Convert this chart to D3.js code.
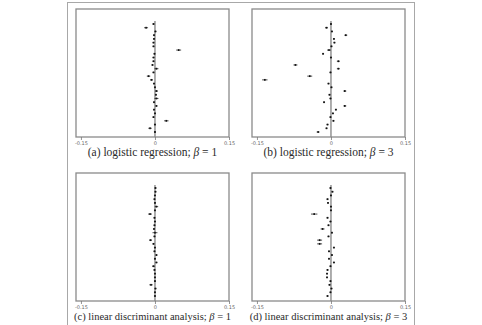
<!DOCTYPE html>
<html>
<head>
<meta charset="utf-8">
<script src="https://cdn.jsdelivr.net/npm/d3@7"></script>
<style>
  body { margin: 0; background: #fff; }
  svg { display: block; }
</style>
</head>
<body>
<div id="chart"></div>
<script>
// estimates and half-widths of the intervals, one row per study, top to bottom
var estA = [-0.003, -0.018, 0.001, -0.002, -0.002, -0.003, -0.003, 0.048, -0.001, -0.003,
            -0.003, -0.005, 0.003, -0.003, -0.013, -0.007, -0.002, 0, 0.003, 0.002,
            0.003, -0.002, 0.003, -0.002, 0, -0.003, 0.023, 0, -0.010, 0];
var errA = [0.002, 0.004, 0.002, 0.002, 0.002, 0.002, 0.002, 0.005, 0.002, 0.002,
            0.002, 0.002, 0.004, 0.002, 0.0035, 0.003, 0.002, 0.002, 0.003, 0.002,
            0.004, 0.002, 0.002, 0.002, 0.002, 0.002, 0.0045, 0.002, 0.0035, 0.002];

var estB = [0, -0.009, 0.002, 0.030, 0.006, 0.007, 0.001, -0.004, -0.016, 0,
            0.015, -0.072, 0.015, -0.001, -0.043, -0.134, -0.005, 0.001, 0.028, -0.003,
            -0.001, -0.014, 0.028, 0.010, 0.004, -0.001, 0.005, -0.007, -0.009, -0.026];
var errB = [0.002, 0.003, 0.002, 0.003, 0.002, 0.002, 0.002, 0.004, 0.002, 0.002,
            0.003, 0.004, 0.003, 0.002, 0.005, 0.0055, 0.002, 0.002, 0.003, 0.002,
            0.002, 0.002, 0.003, 0.002, 0.002, 0.002, 0.002, 0.002, 0.002, 0.003];

var estC = [0.001, 0.001, 0, -0.001, 0, 0.003, 0, -0.010, -0.001, 0,
            -0.001, -0.002, 0, -0.001, -0.009, -0.003, 0, -0.001, 0.003, 0,
            0.003, -0.003, -0.001, 0, 0, 0, -0.008, 0.001, 0, 0];
var errC = [0.002, 0.002, 0.002, 0.002, 0.002, 0.0035, 0.002, 0.004, 0.002, 0.002,
            0.002, 0.002, 0.005, 0.002, 0.003, 0.002, 0.002, 0.002, 0.002, 0.002,
            0.002, 0.003, 0.002, 0.002, 0.002, 0.002, 0.0035, 0.002, 0.002, 0.002];

var estD = [-0.001, 0.003, 0, -0.007, -0.006, 0, 0, -0.034, -0.007, -0.001,
            -0.005, -0.017, 0.002, -0.005, -0.023, -0.023, 0.006, -0.004, 0.002, -0.004,
            0.006, -0.001, -0.007, -0.008, -0.008, -0.001, -0.003, 0.001, -0.001, -0.007];
var errD = [0.002, 0.002, 0.002, 0.002, 0.002, 0.002, 0.002, 0.0065, 0.002, 0.002,
            0.002, 0.004, 0.002, 0.002, 0.005, 0.005, 0.002, 0.002, 0.002, 0.002,
            0.002, 0.002, 0.002, 0.002, 0.002, 0.002, 0.002, 0.002, 0.002, 0.002];

var tickValues = [-0.15, 0, 0.15];
var tickLabels = ["-0.15", "0", "0.15"];
var captions = [
  ["(a) logistic regression; ", "1"],
  ["(b) logistic regression; ", "3"],
  ["(c) linear discriminant analysis; ", "1"],
  ["(d) linear discriminant analysis; ", "3"]
];

var W = 482, H = 325;
var panelW = 153, panelH = 128;
var panels = [
  { x: 76, y: 9, est: estA, err: errA, cap: captions[0], capSize: 11.5 },
  { x: 252, y: 9, est: estB, err: errB, cap: captions[1], capSize: 11.5 },
  { x: 76, y: 173, est: estC, err: errC, cap: captions[2], capSize: 10.5 },
  { x: 252, y: 173, est: estD, err: errD, cap: captions[3], capSize: 10.5 }
];

var svg = d3.select("#chart").append("svg")
  .attr("width", W)
  .attr("height", H);

// outer figure frame
svg.append("rect")
  .attr("x", 67.5).attr("y", 2.5)
  .attr("width", 347).attr("height", 330)
  .attr("fill", "none")
  .attr("stroke", "#a8a8a8")
  .attr("stroke-width", 1);

panels.forEach(function (p) {
  var g = svg.append("g")
    .attr("transform", "translate(" + p.x + "," + p.y + ")");

  var xScale = d3.scaleLinear().domain([-0.16, 0.15]).range([0, panelW]);
  var yScale = d3.scalePoint()
    .domain(d3.range(p.est.length))
    .range([15, panelH - 5]);

  // zero reference line
  g.append("line")
    .attr("x1", xScale(0)).attr("x2", xScale(0))
    .attr("y1", 12).attr("y2", panelH)
    .attr("stroke", "#9a9a9a")
    .attr("stroke-width", 1.6);

  var rows = g.selectAll(".row")
    .data(p.est.map(function (d, i) { return { est: d, err: p.err[i], i: i }; }))
    .enter().append("g")
    .attr("class", "row");

  rows.append("line")
    .attr("x1", function (d) { return xScale(d.est - d.err); })
    .attr("x2", function (d) { return xScale(d.est + d.err); })
    .attr("y1", function (d) { return yScale(d.i); })
    .attr("y2", function (d) { return yScale(d.i); })
    .attr("stroke", "#222")
    .attr("stroke-width", 0.8);

  rows.append("rect")
    .attr("x", function (d) { return xScale(d.est) - 0.8; })
    .attr("y", function (d) { return yScale(d.i) - 0.9; })
    .attr("width", 1.6)
    .attr("height", 1.8)
    .attr("fill", "#111");

  // panel border
  g.append("rect")
    .attr("x", 0).attr("y", 0)
    .attr("width", panelW).attr("height", panelH)
    .attr("fill", "none")
    .attr("stroke", "#8a8a8a")
    .attr("stroke-width", 1.3);

  var axis = d3.axisBottom(xScale)
    .tickValues(tickValues)
    .tickSize(3)
    .tickFormat(function (d, i) { return tickLabels[i]; });

  var ax = g.append("g")
    .attr("transform", "translate(0," + panelH + ")")
    .call(axis);
  ax.select(".domain").remove();
  ax.selectAll(".tick line").attr("stroke", "#777").attr("stroke-width", 0.8);
  ax.selectAll(".tick text")
    .attr("y", 4)
    .attr("font-family", "DejaVu Sans, sans-serif")
    .attr("font-size", 5)
    .attr("fill", "#666");

  var cap = g.append("text")
    .attr("x", panelW / 2)
    .attr("y", panelH + 18.5)
    .attr("text-anchor", "middle")
    .attr("font-family", "Liberation Serif, DejaVu Serif, serif")
    .attr("font-size", p.capSize)
    .attr("fill", "#2a2a2a");
  cap.append("tspan").text(p.cap[0]);
  cap.append("tspan").attr("font-style", "italic").text("\u03B2");
  cap.append("tspan").text(" = " + p.cap[1]);
});
</script>
</body>
</html>
